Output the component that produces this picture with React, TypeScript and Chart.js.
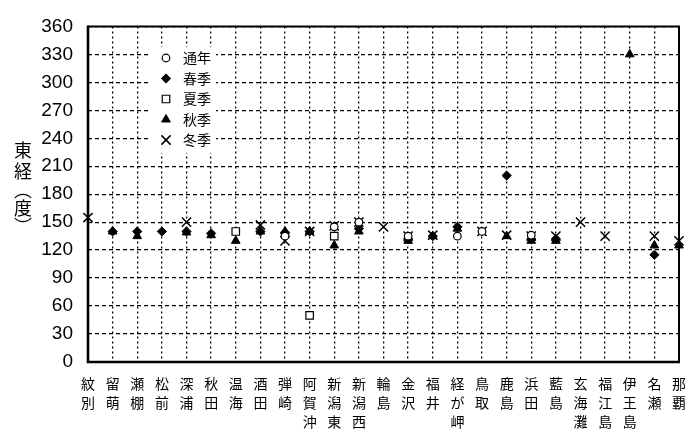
import React, { useEffect, useRef } from 'react';
import { Chart, registerables } from 'chart.js';
import { drawPoint } from 'chart.js/helpers';

Chart.register(...registerables);

const stations: string[][] = [
  ['紋', '別'], ['留', '萌'], ['瀬', '棚'], ['松', '前'], ['深', '浦'], ['秋', '田'],
  ['温', '海'], ['酒', '田'], ['弾', '崎'], ['阿', '賀', '沖'], ['新', '潟', '東'],
  ['新', '潟', '西'], ['輪', '島'], ['金', '沢'], ['福', '井'], ['経', 'が', '岬'],
  ['鳥', '取'], ['鹿', '島'], ['浜', '田'], ['藍', '島'], ['玄', '海', '灘'],
  ['福', '江', '島'], ['伊', '王', '島'], ['名', '瀬'], ['那', '覇'],
];

const yTicks: number[] = [0, 30, 60, 90, 120, 150, 180, 210, 240, 270, 300, 330, 360];

//               紋別 留萌 瀬棚 松前 深浦 秋田 温海 酒田 弾崎 阿賀 潟東 潟西 輪島 金沢 福井 経岬 鳥取 鹿島 浜田 藍島 玄海 福江 伊王 名瀬 那覇
const annual: (number | null)[] = [null, null, null, null, null, null, null, null, 135, null, 145, 150, null, 135, null, 135, 140, null, 136, null, null, null, null, null, null];
const spring: (number | null)[] = [null, 140, 140, 140, 140, 138, null, 140, 139, 140, null, 143, null, 132, 135, 145, null, 200, 132, 132, null, null, null, 115, null];
const summer: (number | null)[] = [null, null, null, null, null, null, 140, null, null, 50, 135, null, null, null, null, null, null, null, null, null, null, null, null, null, null];
const autumn: (number | null)[] = [null, 140, 135, null, 139, 136, 130, 140, 140, 140, 125, 140, null, 130, 135, 143, null, 135, 130, 130, null, null, 330, 125, 125];
const winter: (number | null)[] = [155, null, null, null, 150, null, null, 147, 130, 140, 146, 150, 145, 135, 136, null, 140, 136, 135, 135, 150, 135, null, 135, 130];

const seriesNames: string[] = ['通年', '春季', '夏季', '秋季', '冬季'];

const CJK = '"Noto Sans CJK JP", "Noto Sans CJK SC", sans-serif';

const seriesStyle = [
  { pointStyle: 'circle', radius: 3.8, bg: '#ffffff', bw: 1.2 },
  { pointStyle: 'rectRot', radius: 4.6, bg: '#000000', bw: 1 },
  { pointStyle: 'rect', radius: 5.3, bg: '#ffffff', bw: 1.2 },
  { pointStyle: 'triangle', radius: 5, bg: '#000000', bw: 1 },
  { pointStyle: 'crossRot', radius: 6.5, bg: '#000000', bw: 1.5 },
];

const framePlugin = {
  id: 'frame',
  afterDraw(chart: any) {
    const { ctx, chartArea: a } = chart;
    ctx.save();
    ctx.strokeStyle = '#000';
    ctx.lineWidth = 2;
    ctx.beginPath();
    ctx.moveTo(a.left, a.top);
    ctx.lineTo(a.right, a.top);
    ctx.lineTo(a.right, a.bottom);
    ctx.stroke();
    ctx.lineWidth = 2.6;
    ctx.beginPath();
    ctx.moveTo(a.left, a.top - 1);
    ctx.lineTo(a.left, a.bottom);
    ctx.lineTo(a.right + 1, a.bottom);
    ctx.stroke();
    ctx.restore();
  },
};

const legendPlugin = {
  id: 'innerLegend',
  afterDraw(chart: any) {
    const { ctx } = chart;
    ctx.save();
    ctx.fillStyle = '#ffffff';
    ctx.fillRect(149, 47, 67, 106);
    const ys = [58, 78.5, 99, 119.5, 140];
    seriesNames.forEach((name, i) => {
      const s = seriesStyle[i];
      ctx.fillStyle = s.bg;
      ctx.strokeStyle = '#000';
      ctx.lineWidth = s.bw;
      drawPoint(ctx, { pointStyle: s.pointStyle as any, radius: s.radius, rotation: 0, borderWidth: s.bw }, 166, ys[i]);
      ctx.fillStyle = '#000';
      ctx.font = `14px ${CJK}`;
      ctx.textAlign = 'left';
      ctx.textBaseline = 'middle';
      ctx.fillText(name, 183, ys[i]);
    });
    ctx.restore();
  },
};

const yTitlePlugin = {
  id: 'yTitle',
  afterDraw(chart: any) {
    const { ctx } = chart;
    ctx.save();
    ctx.fillStyle = '#000';
    ctx.font = `18px ${CJK}`;
    ctx.textAlign = 'center';
    ctx.textBaseline = 'middle';
    const chars = ['東', '経', '︵', '度', '︶'];
    const ys = [150, 171, 190, 208, 226];
    chars.forEach((c, i) => ctx.fillText(c, 23, ys[i]));
    ctx.restore();
  },
};

export default function App() {
  const ref = useRef<HTMLCanvasElement | null>(null);
  useEffect(() => {
    if (!ref.current) return;
    const all = [annual, spring, summer, autumn, winter];
    const chart = new Chart(ref.current, {
      type: 'line',
      data: {
        labels: stations,
        datasets: all.map((d, i) => ({
          label: seriesNames[i],
          data: d,
          showLine: false,
          pointStyle: seriesStyle[i].pointStyle as any,
          pointRadius: seriesStyle[i].radius,
          pointBackgroundColor: seriesStyle[i].bg,
          pointBorderColor: '#000',
          pointBorderWidth: seriesStyle[i].bw,
          borderColor: '#000',
          backgroundColor: seriesStyle[i].bg,
          clip: false as any,
          order: i,
        })),
      },
      options: {
        responsive: false,
        animation: false,
        events: [],
        layout: { padding: { top: 21, right: 21, left: 0, bottom: 0 } },
        plugins: { legend: { display: false }, tooltip: { enabled: false } },
        scales: {
          x: {
            type: 'category',
            offset: false,
            afterFit(scale: any) { scale.height = 83; },
            grid: { color: '#000', lineWidth: 1.3, drawTicks: false },
            border: { display: false, dash: [2, 3] },
            ticks: {
              color: '#000',
              font: { family: CJK, size: 14, lineHeight: 1.36 },
              padding: 12,
              maxRotation: 0,
              autoSkip: false,
            },
          },
          y: {
            min: 0,
            max: 360,
            afterFit(scale: any) { scale.width = 88; },
            afterBuildTicks(scale: any) { scale.ticks = yTicks.map((v) => ({ value: v })); },
            grid: { color: '#000', lineWidth: 1.3, drawTicks: false },
            border: { display: false, dash: [4, 3] },
            ticks: {
              color: '#000',
              font: { family: '"Liberation Sans", Arial, sans-serif', size: 19 },
              padding: 15,
            },
          },
        },
      },
      plugins: [framePlugin, legendPlugin, yTitlePlugin],
    });
    return () => chart.destroy();
  }, []);
  return (
    <div style={{ position: 'fixed', left: 0, top: 0, width: 700, height: 445, background: '#fff' }}>
      <canvas ref={ref} width={700} height={445} />
    </div>
  );
}
